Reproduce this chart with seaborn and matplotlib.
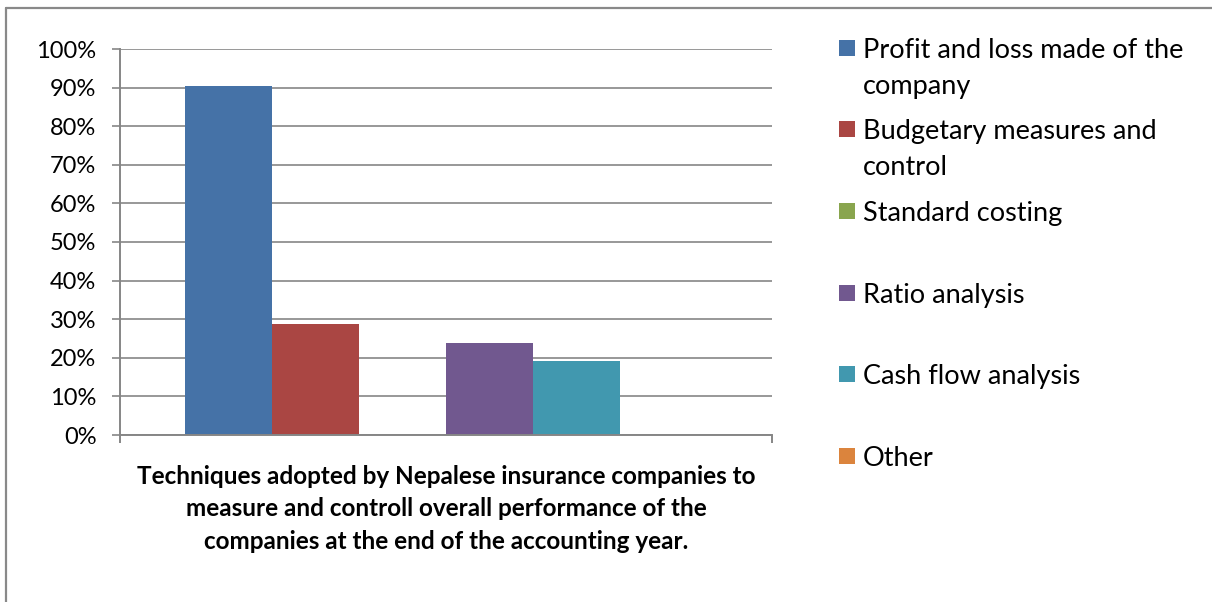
import matplotlib
matplotlib.use("Agg")
import matplotlib.pyplot as plt
from matplotlib.patches import Rectangle
from matplotlib.lines import Line2D
from matplotlib.ticker import PercentFormatter
import seaborn as sns
import pandas as pd

# Share of companies using each technique (%)
techniques = [
    "Profit and loss made of the\ncompany",
    "Budgetary measures and\ncontrol",
    "Standard costing",
    "Ratio analysis",
    "Cash flow analysis",
    "Other",
]
shares = [90.5, 28.8, 0.0, 23.8, 19.2, 0.0]
colors = ["#4572A7", "#AA4643", "#89A54E", "#71588F", "#4198AF", "#DB843D"]
y_ticks = [0, 10, 20, 30, 40, 50, 60, 70, 80, 90, 100]
axis_title = ("Techniques adopted by Nepalese insurance companies to\n"
              "measure and controll overall performance of the\n"
              "companies at the end of the accounting year.")

df = pd.DataFrame({"group": ["all"] * len(techniques),
                   "technique": techniques,
                   "share": shares})

sns.set_theme(style="white")
plt.rcParams["font.family"] = ["Lato", "DejaVu Sans"]

W, H = 1212, 602
fig = plt.figure(figsize=(W / 100, H / 100), dpi=100)
fig.patch.set_facecolor("white")

ax_l, ax_r, ax_t, ax_b = 120, 772, 49, 435
ax = fig.add_axes([ax_l / W, 1 - ax_b / H, (ax_r - ax_l) / W, (ax_b - ax_t) / H])

sns.barplot(data=df, x="group", y="share", hue="technique", hue_order=techniques,
            palette=colors, saturation=1, width=0.8, legend=False, ax=ax,
            edgecolor="none", linewidth=0)

grid_c = "#868686"
ax.set_xlim(-0.5, 0.5)
ax.set_ylim(0, 100)
ax.set_yticks(y_ticks)
ax.yaxis.set_major_formatter(PercentFormatter(decimals=0))
ax.yaxis.grid(True, color=grid_c, linewidth=1.2)
ax.set_axisbelow(True)
for s in ["top", "right"]:
    ax.spines[s].set_visible(False)
for s in ["left", "bottom"]:
    ax.spines[s].set_color(grid_c)
    ax.spines[s].set_linewidth(1.4)

ax.tick_params(axis="y", which="major", direction="out", length=6, width=1.2,
               color=grid_c, labelsize=17, labelcolor="black", pad=11, left=True)
ax.set_xticks([-0.5, 0.5])
ax.set_xticklabels(["", ""])
ax.tick_params(axis="x", direction="out", length=6, width=1.4, color=grid_c, bottom=True)
ax.set_ylabel("")
ax.set_xlabel(axis_title, fontsize=17.5, fontweight="bold", linespacing=1.5,
              labelpad=12, color="black")


def px(x, y):
    return x / W, 1 - y / H


# Legend: square swatch beside first line of each (possibly wrapped) label
entry_y = [48, 129, 211, 293, 374, 456]
for lab, col, yc in zip(techniques, colors, entry_y):
    x0, y0 = px(839, yc + 8)
    fig.add_artist(Rectangle((x0, y0), 16 / W, 16 / H, facecolor=col,
                             edgecolor="none", transform=fig.transFigure))
    for i, line in enumerate(lab.split("\n")):
        tx, ty = px(863, yc + i * 36)
        fig.text(tx, ty, line, fontsize=19.5, color="black", va="center_baseline",
                 ha="left")

# Chart-area frame (left and top edges)
fig.add_artist(Line2D([6 / W, 6 / W], [0, 1 - 8 / H], color="#898989", linewidth=1.6,
                      transform=fig.transFigure))
fig.add_artist(Line2D([6 / W, 1], [1 - 8 / H, 1 - 8 / H], color="#898989", linewidth=1.6,
                      transform=fig.transFigure))

fig.savefig("out.png", dpi=100, facecolor="white")
